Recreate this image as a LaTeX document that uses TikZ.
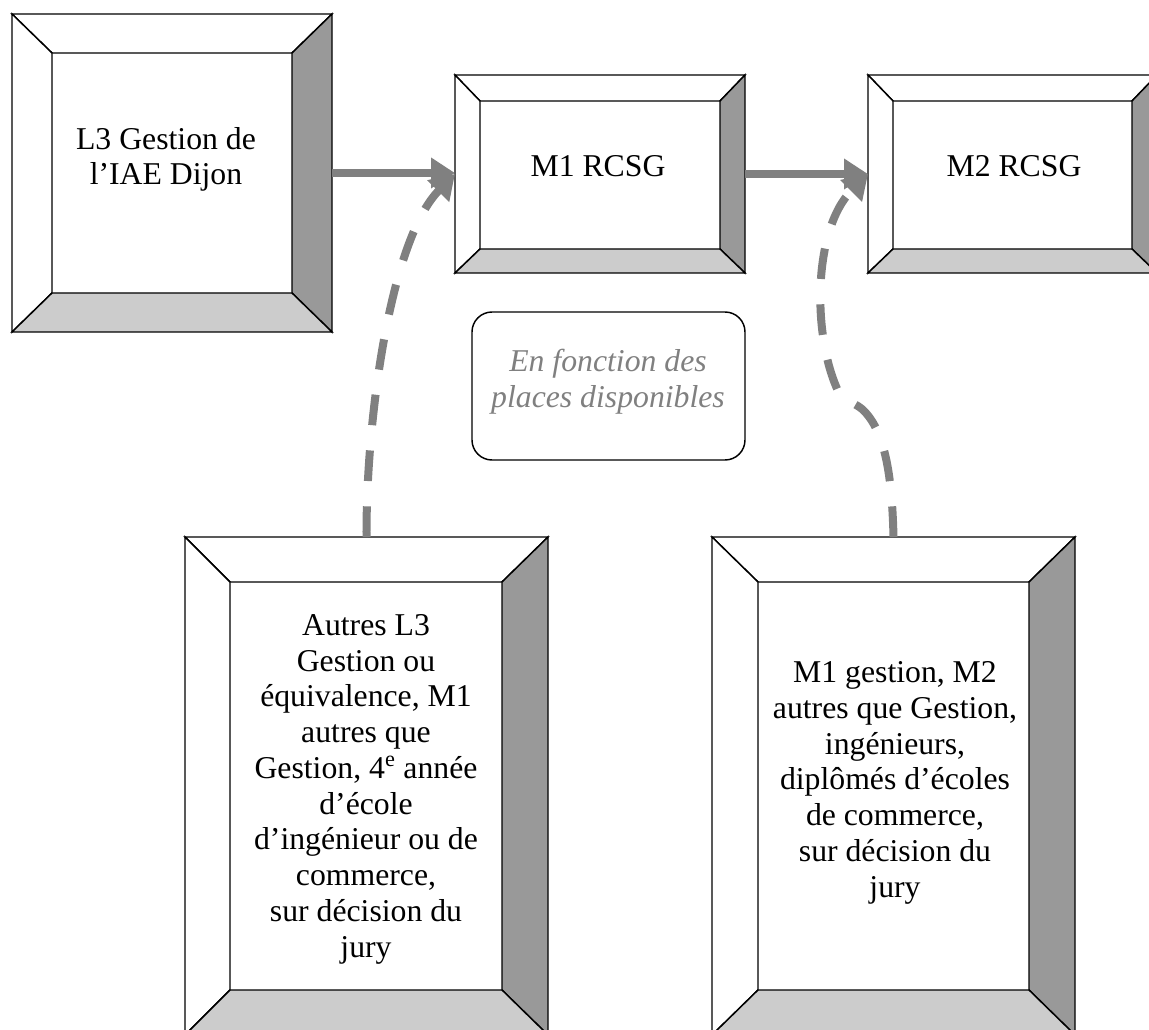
\documentclass[tikz,border=0pt]{standalone}
\usepackage{amsmath}
\usepackage{xcolor}
\usepackage{fontspec}
\setmainfont{Liberation Serif}
\usepackage{tikz}
\usetikzlibrary{arrows.meta,fit}

\begin{document}
\begin{tikzpicture}[x=0.75pt,y=0.75pt,yscale=-1,xscale=1,
  bevel/.style={draw=black,line width=1.1pt,line join=miter},
  frame/.style={inner sep=0pt,outer sep=0pt},
  flow/.style={draw={rgb, 255:red, 128; green, 128; blue, 128 },line width=6pt,-{Triangle[length=18pt,width=22pt]}},
  jump/.style={flow,dash pattern={on 23pt off 19pt}},
  txt/.style={anchor=base,align=center,inner sep=0pt,font=\fontsize{23.8}{26.8}\selectfont}]
%set diagram left start at 0, and has height of 1030
\clip (0,0) rectangle (1149,1030);

%Shape: Bevel [id:l3]
\draw [bevel][fill={rgb, 255:red, 255; green, 255; blue, 255 }] (12,14) -- (332,14) -- (292,53) -- (52,53) -- cycle ;
\draw [bevel][fill={rgb, 255:red, 255; green, 255; blue, 255 }] (12,14) -- (52,53) -- (52,293) -- (12,332) -- cycle ;
\draw [bevel][fill={rgb, 255:red, 153; green, 153; blue, 153 }] (332,14) -- (332,332) -- (292,293) -- (292,53) -- cycle ;
\draw [bevel][fill={rgb, 255:red, 204; green, 204; blue, 204 }] (12,332) -- (52,293) -- (292,293) -- (332,332) -- cycle ;
\node [frame, fit={(12,14) (332,332)}] (l3) {};

%Shape: Bevel [id:m1]
\draw [bevel][fill={rgb, 255:red, 255; green, 255; blue, 255 }] (455,75) -- (745,75) -- (720,101) -- (480,101) -- cycle ;
\draw [bevel][fill={rgb, 255:red, 255; green, 255; blue, 255 }] (455,75) -- (480,101) -- (480,249) -- (455,273) -- cycle ;
\draw [bevel][fill={rgb, 255:red, 153; green, 153; blue, 153 }] (745,75) -- (745,273) -- (720,249) -- (720,101) -- cycle ;
\draw [bevel][fill={rgb, 255:red, 204; green, 204; blue, 204 }] (455,273) -- (480,249) -- (720,249) -- (745,273) -- cycle ;
\node [frame, fit={(455,75) (745,273)}] (m1) {};

%Shape: Bevel [id:m2]
\draw [bevel][fill={rgb, 255:red, 255; green, 255; blue, 255 }] (868,75) -- (1157,75) -- (1132,101) -- (893,101) -- cycle ;
\draw [bevel][fill={rgb, 255:red, 255; green, 255; blue, 255 }] (868,75) -- (893,101) -- (893,249) -- (868,273) -- cycle ;
\draw [bevel][fill={rgb, 255:red, 153; green, 153; blue, 153 }] (1157,75) -- (1157,273) -- (1132,249) -- (1132,101) -- cycle ;
\draw [bevel][fill={rgb, 255:red, 204; green, 204; blue, 204 }] (868,273) -- (893,249) -- (1132,249) -- (1157,273) -- cycle ;
\node [frame, fit={(868,75) (1157,273)}] (m2) {};

%Shape: Bevel [id:autres]
\draw [bevel][fill={rgb, 255:red, 255; green, 255; blue, 255 }] (185,537) -- (548,537) -- (502,582) -- (230,582) -- cycle ;
\draw [bevel][fill={rgb, 255:red, 255; green, 255; blue, 255 }] (185,537) -- (230,582) -- (230,990) -- (185,1035) -- cycle ;
\draw [bevel][fill={rgb, 255:red, 153; green, 153; blue, 153 }] (548,537) -- (548,1035) -- (502,990) -- (502,582) -- cycle ;
\draw [bevel][fill={rgb, 255:red, 204; green, 204; blue, 204 }] (185,1035) -- (230,990) -- (502,990) -- (548,1035) -- cycle ;
\node [frame, fit={(185,537) (548,1035)}] (autres) {};

%Shape: Bevel [id:acces]
\draw [bevel][fill={rgb, 255:red, 255; green, 255; blue, 255 }] (712,537) -- (1075,537) -- (1029,582) -- (758,582) -- cycle ;
\draw [bevel][fill={rgb, 255:red, 255; green, 255; blue, 255 }] (712,537) -- (758,582) -- (758,990) -- (712,1035) -- cycle ;
\draw [bevel][fill={rgb, 255:red, 153; green, 153; blue, 153 }] (1075,537) -- (1075,1035) -- (1029,990) -- (1029,582) -- cycle ;
\draw [bevel][fill={rgb, 255:red, 204; green, 204; blue, 204 }] (712,1035) -- (758,990) -- (1029,990) -- (1075,1035) -- cycle ;
\node [frame, fit={(712,537) (1075,1035)}] (acces) {};

%Rounded Rect [id:places]
\draw [bevel, rounded corners=15pt] (472,312) rectangle (745,460) ;
\node [frame, fit={(472,312) (745,460)}] (places) {};

%Straight Lines [id:l3m1]
\draw [flow] (l3.east) -- (l3.east -| m1.west) ;
%Straight Lines [id:m1m2]
\draw [flow] (m1.east) -- (m2.west) ;
%Curve Lines [id:autresm1]
\draw [jump] (autres.north) .. controls (366,420) and (390,240) .. (m1.west) ;
%Curve Lines [id:accesm2]
\draw [jump] (acces.north) .. controls (892,475) and (885,430) .. (862,409) .. controls (852,401) and (845,402) .. (840,395) .. controls (812,340) and (812,230) .. (m2.west) ;

% Text Node (base = last line)
\node [txt] (l3txt) at (166,185) {L3 Gestion de\\l’IAE Dijon};
% Text Node
\node [txt] (m1txt) at (598,177) {M1 RCSG};
% Text Node
\node [txt] (m2txt) at (1014,177) {M2 RCSG};
% Text Node
\node [txt, text={rgb, 255:red, 128; green, 128; blue, 128 }, font=\fontsize{23.8}{26.8}\selectfont\itshape] (placestxt) at (608,407) {En fonction des\\places disponibles};
% Text Node
\node [txt] (autrestxt) at (366,957) {Autres L3\\Gestion ou\\équivalence, M1\\autres que\\Gestion, 4\textsuperscript{e} année\\d’école\\d’ingénieur ou de\\commerce,\\sur décision du\\jury};
% Text Node
\node [txt] (accestxt) at (895,897) {M1 gestion, M2\\autres que Gestion,\\ingénieurs,\\diplômés d’écoles\\de commerce,\\sur décision du\\jury};

\end{tikzpicture}
\end{document}
